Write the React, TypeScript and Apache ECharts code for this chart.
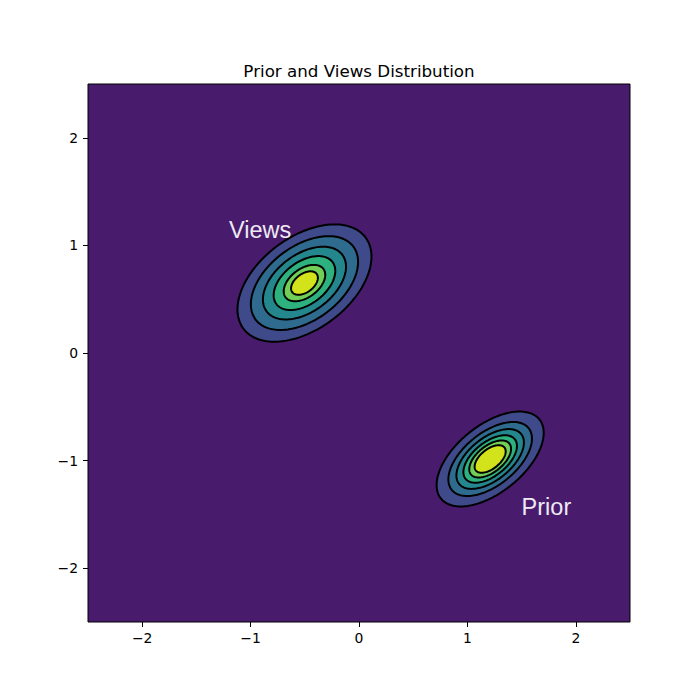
import React, { useEffect, useRef } from 'react';
import * as echarts from 'echarts';

// ---- data ----
const chartTitle = 'Prior and Views Distribution';
const xTicks = [-2, -1, 0, 1, 2];
const yTicks = [-2, -1, 0, 1, 2];
const axisMin = -2.5;
const axisMax = 2.5;

// Views distribution (outer contour shape in data units)
const viewsMean = [-0.503, 0.65];
const viewsSigma = [0.618, 0.545];
const viewsRho = 0.45;
const viewsLevels = [1, 0.8, 0.62, 0.46, 0.31, 0.2];

// Prior distribution
const priorMean = [1.21, -0.985];
const priorSigma = [0.494, 0.441];
const priorRho = 0.55;
const priorLevels = [1, 0.78, 0.63, 0.5, 0.39, 0.29];

const backgroundLevelColor = '#481b6d';
const levelColors = ['#3e4a89', '#2f6b8e', '#24878e', '#2db17e', '#70cf57', '#d2e21b'];

const annotationTexts = ['Views', 'Prior'];
const annotationX = [-1.2, 1.5];
const annotationY = [1.14, -1.43];

// ---- build ----
type Blob = { mean: number[]; sigma: number[]; rho: number; levels: number[] };
const blobs: Blob[] = [
  { mean: viewsMean, sigma: viewsSigma, rho: viewsRho, levels: viewsLevels },
  { mean: priorMean, sigma: priorSigma, rho: priorRho, levels: priorLevels },
];

const contourData: number[][] = [];
blobs.forEach((b) => {
  b.levels.forEach((r, i) => {
    contourData.push([b.mean[0], b.mean[1], b.sigma[0], b.sigma[1], b.rho, r, i]);
  });
});

const annotationData = annotationTexts.map((t, i) => [annotationX[i], annotationY[i], i]);

const fmt = (v: number) => (v < 0 ? '\u2212' + Math.abs(v) : String(v));

export default function App() {
  const ref = useRef<HTMLDivElement>(null);
  useEffect(() => {
    if (!ref.current) return;
    const chart = echarts.init(ref.current, null, { renderer: 'svg' });
    const tickFont = { fontFamily: 'DejaVu Sans', fontSize: 13.9, color: '#000' };
    chart.setOption({
      animation: false,
      backgroundColor: '#fff',
      graphic: [
        {
          type: 'text',
          x: 359,
          y: 71,
          style: {
            text: chartTitle,
            align: 'center',
            verticalAlign: 'middle',
            font: '16.7px "DejaVu Sans"',
            fill: '#000',
          },
        },
      ],
      grid: {
        left: 88,
        top: 84,
        width: 542,
        height: 538,
        show: true,
        backgroundColor: backgroundLevelColor,
        borderColor: '#000',
        borderWidth: 1,
      },
      xAxis: {
        type: 'value',
        position: 'bottom',
        min: axisMin,
        max: axisMax,
        axisLine: { show: false, onZero: false },
        splitLine: { show: false },
        axisTick: { show: true, length: 5, lineStyle: { color: '#000' }, customValues: xTicks },
        axisLabel: { ...tickFont, margin: 9, customValues: xTicks, formatter: fmt },
      },
      yAxis: {
        type: 'value',
        position: 'left',
        min: axisMin,
        max: axisMax,
        axisLine: { show: false, onZero: false },
        splitLine: { show: false },
        axisTick: { show: true, length: 5, lineStyle: { color: '#000' }, customValues: yTicks },
        axisLabel: { ...tickFont, margin: 10, customValues: yTicks, formatter: fmt },
      },
      series: [
        {
          type: 'custom',
          data: contourData,
          encode: { x: 0, y: 1 },
          clip: true,
          renderItem: (params: any, api: any) => {
            const mx = api.value(0);
            const my = api.value(1);
            const sx = api.value(2);
            const sy = api.value(3);
            const rho = api.value(4);
            const r = api.value(5);
            const ci = api.value(6);
            const pts: number[][] = [];
            const n = 160;
            for (let k = 0; k < n; k++) {
              const t = (2 * Math.PI * k) / n;
              const u = Math.cos(t);
              const v = Math.sin(t);
              const dx = r * sx * u;
              const dy = r * sy * (rho * u + Math.sqrt(1 - rho * rho) * v);
              pts.push(api.coord([mx + dx, my + dy]));
            }
            return {
              type: 'polygon',
              shape: { points: pts },
              style: { fill: levelColors[ci], stroke: '#000', lineWidth: 2 },
            };
          },
          z: 2,
        },
        {
          type: 'custom',
          data: annotationData,
          encode: { x: 0, y: 1 },
          renderItem: (params: any, api: any) => {
            const p = api.coord([api.value(0), api.value(1)]);
            const idx = api.value(2);
            return {
              type: 'text',
              x: p[0],
              y: p[1],
              style: {
                text: annotationTexts[idx],
                align: 'left',
                verticalAlign: 'middle',
                font: '23.5px "Liberation Sans"',
                fill: '#eeeaf3',
              },
            };
          },
          z: 3,
        },
      ],
    });
    return () => chart.dispose();
  }, []);
  return (
    <div
      ref={ref}
      style={{ position: 'fixed', left: 0, top: 0, width: 700, height: 700 }}
    />
  );
}
